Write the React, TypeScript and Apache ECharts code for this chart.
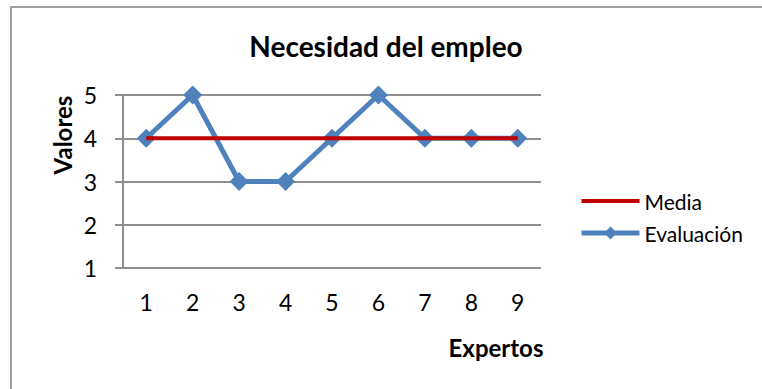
import React, { useEffect, useRef } from "react";
import * as echarts from "echarts";

const categories = ["1", "2", "3", "4", "5", "6", "7", "8", "9"];
const evaluacion = [4, 5, 3, 3, 4, 5, 4, 4, 4];
const media = [4, 4, 4, 4, 4, 4, 4, 4, 4];
const seriesNames = ["Media", "Evaluación"];
const titleText = "Necesidad del empleo";
const yName = "Valores";
const xName = "Expertos";

const FONT = "Lato, 'Liberation Sans', sans-serif";

export default function App() {
  const ref = useRef<HTMLDivElement>(null);
  useEffect(() => {
    if (!ref.current) return;
    const chart = echarts.init(ref.current, undefined, { renderer: "svg" });
    chart.setOption({
      animation: false,
      backgroundColor: "#ffffff",
      title: {
        text: titleText,
        left: 381,
        textAlign: "center",
        top: 27,
        textStyle: { fontFamily: FONT, fontSize: 28, fontWeight: "bold", color: "#000" },
      },
      legend: {
        orient: "vertical",
        left: 574,
        top: 184,
        itemWidth: 58,
        itemHeight: 16,
        itemGap: 8,
        data: [
          { name: seriesNames[0], itemStyle: { opacity: 0 }, lineStyle: { width: 4, color: "#C00000" } },
          { name: seriesNames[1], lineStyle: { width: 5, color: "#4F81BD" } },
        ],
        textStyle: { fontFamily: FONT, fontSize: 21, color: "#000", lineHeight: 24 },
      },
      grid: { left: 123, right: 221, top: 95, bottom: 121, containLabel: false },
      xAxis: {
        type: "category",
        data: categories,
        boundaryGap: true,
        axisLine: { show: false },
        axisTick: { show: false },
        axisLabel: { fontFamily: FONT, fontSize: 23, color: "#000", margin: 22 },
      },
      yAxis: {
        type: "value",
        min: 1,
        max: 5,
        interval: 1,
        axisLine: { show: true, lineStyle: { color: "#8e8e8e", width: 2 } },
        axisTick: { show: true, length: 8, lineStyle: { color: "#8e8e8e", width: 2 } },
        splitLine: { show: true, lineStyle: { color: "#8e8e8e", width: 2 } },
        axisLabel: { fontFamily: FONT, fontSize: 23, color: "#000", margin: 26 },
      },
      graphic: [
        {
          type: "rect",
          shape: { x: 11, y: 7, width: 820, height: 420 },
          style: { fill: "none", stroke: "#a0a0a0", lineWidth: 2 },
          silent: true,
        },
        {
          type: "text",
          x: 62,
          y: 135,
          rotation: Math.PI / 2,
          style: {
            text: yName,
            fontFamily: FONT,
            fontSize: 24,
            fontWeight: "bold",
            fill: "#000",
            align: "center",
            verticalAlign: "middle",
          },
        },
        {
          type: "text",
          x: 496,
          y: 347,
          style: {
            text: xName,
            fontFamily: FONT,
            fontSize: 24,
            fontWeight: "bold",
            fill: "#000",
            align: "center",
            verticalAlign: "middle",
          },
        },
      ],
      series: [
        {
          name: seriesNames[1],
          type: "line",
          data: evaluacion,
          symbol: "diamond",
          symbolSize: 19,
          lineStyle: { color: "#4F81BD", width: 5 },
          itemStyle: { color: "#4F81BD" },
          z: 2,
        },
        {
          name: seriesNames[0],
          type: "line",
          data: media,
          symbol: "none",
          lineStyle: { color: "#C00000", width: 4 },
          itemStyle: { color: "#C00000" },
          z: 3,
        },
      ],
    });
    return () => chart.dispose();
  }, []);
  return (
    <div
      ref={ref}
      style={{ position: "fixed", left: 0, top: 0, width: 762, height: 389 }}
    />
  );
}
